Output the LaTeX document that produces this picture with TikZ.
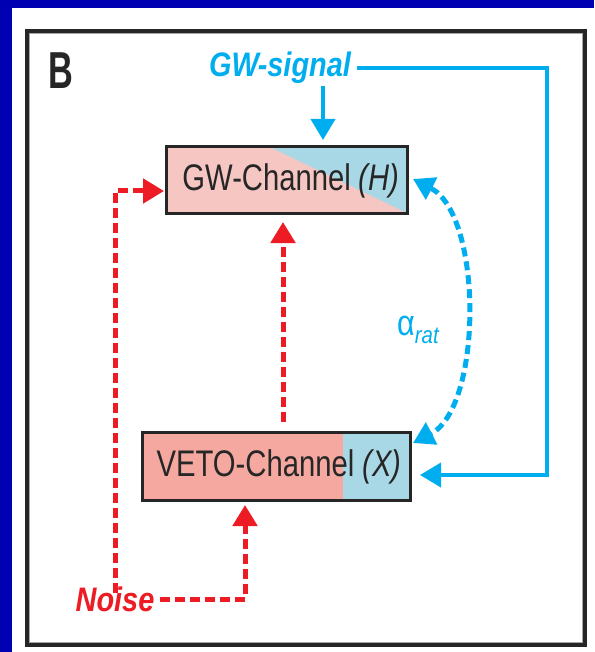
\documentclass[tikz,border=0pt]{standalone}
\usepackage{fontspec}
\setmainfont{Liberation Sans}
\newfontfamily\condfont[FakeStretch=0.79]{Liberation Sans}
\newfontfamily\lblfont[FakeStretch=0.85]{Liberation Sans}
\newfontfamily\bfont[FakeStretch=0.66]{Liberation Sans}
\usetikzlibrary{arrows.meta}
\definecolor{bgblue}{RGB}{0,0,178}
\definecolor{cyanc}{RGB}{0,174,239}
\definecolor{redc}{RGB}{237,28,36}
\definecolor{pinkA}{RGB}{245,198,194}
\definecolor{pinkB}{RGB}{244,168,160}
\definecolor{lblue}{RGB}{168,216,230}
\tikzset{
  chbox/.style={draw=black!85, line width=3pt, inner sep=0pt},
  bigtxt/.style={font=\condfont\fontsize{37}{37}\selectfont, text=black!85},
  lbl/.style={inner sep=0pt, font=\lblfont\bfseries\itshape\fontsize{34}{34}\selectfont},
  tip/.style={-{Triangle[length=21pt,width=24pt]}},
  sigline/.style={draw=cyanc, line width=4pt, tip},
  noiseline/.style={draw=redc, line width=5pt, dash pattern=on 10pt off 5pt, tip},
  ratline/.style={draw=cyanc, line width=5pt, dash pattern=on 9pt off 5pt, {Triangle[length=21pt,width=24pt]}-{Triangle[length=21pt,width=24pt]}},
}
\begin{document}
\begin{tikzpicture}[x=1pt,y=-1pt]
\useasboundingbox (0,0) rectangle (594,652);
\fill[bgblue] (0,0) rectangle (594,652);
\fill[white] (12,8) rectangle (594,652);
\draw[black!85, line width=3.5pt] (27,31) rectangle (585,645);
\draw[black!35, line width=0.8pt] (29.5,33.5) rectangle (582.5,642.5);
% label B
\node[inner sep=0pt, font=\bfont\bfseries\fontsize{52}{52}\selectfont, text=black!85] (lab) at (61,71) {B};
% box fills
\fill[pinkA] (166,147) rectangle (407,213);
\fill[lblue] (270,147) -- (407,147) -- (407,213) -- cycle;
\fill[pinkB] (142,432) rectangle (343,500);
\fill[lblue] (343,432) rectangle (410,500);
% boxes
\node[chbox, minimum width=241pt, minimum height=66pt] (gw) at (286.5,180) {};
\node[bigtxt, inner sep=0pt] (gwt) at (291,181) {GW-Channel \textit{(H)}};
\node[chbox, minimum width=268pt, minimum height=68pt] (veto) at (276,466) {};
\node[bigtxt, inner sep=0pt] (vetot) at (279,467) {VETO-Channel \textit{(X)}};
% labels
\node[lbl, text=cyanc] (sig) at (280,68) {GW-signal};
\node[lbl, text=redc] (noise) at (115,599) {Noise};
\node[inner sep=0pt, text=cyanc, anchor=west] (alpha) at (397,330)
  {\lblfont\fontsize{36}{36}\selectfont α\raisebox{-8pt}{\fontsize{24}{24}\selectfont\itshape rat}};
% coordinates
\coordinate (gwtop) at (323,147);
\coordinate (sigturn) at (547,68);
\coordinate (vetoR) at (410,475);
\coordinate (gwL) at (166,191);
\coordinate (noiseup) at (115,191);
\coordinate (vetoB) at (245,500);
\coordinate (vetoT) at (283,432);
\coordinate (gwB) at (283,213);
\coordinate (rtop) at (413,179);
\coordinate (rbot) at (413,443);
% blue signal arrows
\draw[sigline, shorten >=7pt] ([yshift=-2pt]sig.south -| gwtop) -- (gwtop);
\draw[sigline, shorten >=10pt] ([xshift=6pt]sig.east) -- (sigturn) |- (vetoR);
% alpha curve
\draw[ratline] (rtop) .. controls (483,215) and (483,407) .. (rbot);
% red noise arrows
\draw[noiseline, shorten >=9pt, shorten <=10pt] (vetoT) -- (gwB);
\draw[noiseline, shorten >=2pt] ([yshift=-7pt]noise.north -| noiseup) -- (noiseup) -- (gwL);
\draw[noiseline, shorten >=5pt] ([xshift=5pt]noise.east) -| (vetoB);
\end{tikzpicture}
\end{document}
